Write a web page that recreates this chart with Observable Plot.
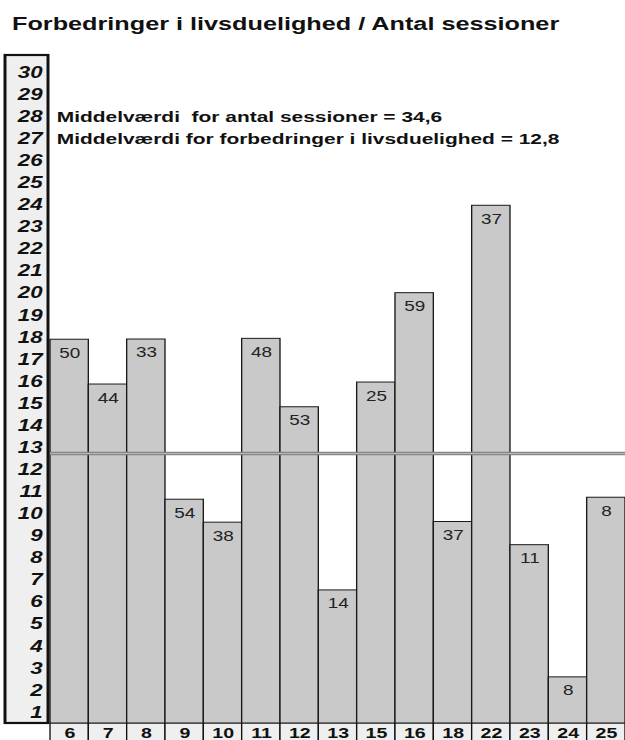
<!DOCTYPE html>
<html><head><meta charset="utf-8">
<script src="https://cdn.jsdelivr.net/npm/d3@7"></script>
<script src="https://cdn.jsdelivr.net/npm/@observablehq/plot@0.6"></script>
<style>
html,body{margin:0;padding:0;background:#fff;overflow:hidden;width:625px;height:740px}
#title{height:40px;position:relative;}
#title span{position:absolute;left:12px;top:15px;font:bold 18.7px "Liberation Sans",Arial,sans-serif;transform:scaleX(1.35);transform-origin:0 0;white-space:nowrap;color:#111;line-height:1}
#chart svg{display:block;transform:scaleX(1.35);transform-origin:0 0;max-width:none}
</style></head><body>
<div id="title"><span>Forbedringer i livsduelighed / Antal sessioner</span></div>
<div id="chart"></div>
<script>
// categories (x axis labels)
const categories = ["6","7","8","9","10","11","12","13","15","16","18","22","23","24","25"];
// bar heights (forbedringer i livsduelighed)
const improvements = [17.39, 15.36, 17.40, 10.14, 9.10, 17.43, 14.33, 6.03, 15.45, 19.50, 9.13, 23.46, 8.08, 2.09, 10.23];
// labels inside bars (antal sessioner)
const sessions = [50, 44, 33, 54, 38, 48, 53, 14, 25, 59, 37, 37, 11, 8, 8];
// y tick labels
const yTicks = d3.range(1, 31);
// mean line position, as drawn in the picture
const meanLine = 12.24;
// annotation texts
const notes = ["Middelværdi\u00a0 for antal sessioner = 34,6", "Middelværdi for forbedringer i livsduelighed = 12,8"];
const noteRows = [28, 27];

const S = 1.35;
const data = categories.map((c, i) => ({cat: c, value: improvements[i], sessions: sessions[i]}));

const plot = Plot.plot({
  width: 625 / S, height: 700,
  marginTop: 15, marginBottom: 17, marginLeft: 50 / S, marginRight: 0,
  style: {background: "transparent", fontFamily: "Liberation Sans, Arial, sans-serif", overflow: "visible"},
  x: {type: "band", domain: categories, padding: 0, round: false, axis: null},
  y: {domain: [0, 30.27], axis: null},
  marks: [
    Plot.barY(categories, {x: d => d, y1: 0, y2: -0.85, fill: "#efefef", stroke: "#111", strokeWidth: 1}),
    Plot.barY(data, {x: "cat", y: "value", fill: "#c9c9c9", stroke: "#1a1a1a", strokeWidth: 1}),
    Plot.ruleY([meanLine], {stroke: "#858585", strokeWidth: 3.5}),
    Plot.ruleY([meanLine], {stroke: "#b8b8b8", strokeWidth: 1}),
    Plot.text(data, {x: "cat", y: "value", text: d => String(d.sessions), dy: 13.5, lineAnchor: "middle", fontSize: 14, fill: "#222"}),
    Plot.text(yTicks, {y: d => d - 0.5, text: d => String(d), frameAnchor: "left", dx: -6, textAnchor: "end", fontSize: 16.5, fontWeight: "bold", fontStyle: "italic", fill: "#111"}),
    Plot.text(notes, {y: (d, i) => noteRows[i] - 0.5, text: d => d, frameAnchor: "left", dx: 4.5, textAnchor: "start", lineAnchor: "middle", fontSize: 15.5, fontWeight: "bold", fill: "#111"}),
    Plot.text(categories, {x: d => d, text: d => d, frameAnchor: "bottom", dy: 9.5, lineAnchor: "middle", fontSize: 14.5, fontWeight: "bold", fill: "#111"})
  ]
});

// y-axis box drawn behind the tick labels, positioned from the y scale
const ys = plot.scale("y");
const yTop = ys.apply(ys.domain[1]);
const yBot = ys.apply(0);
d3.select(plot).insert("rect", ":first-child")
  .attr("x", 5 / S).attr("y", yTop)
  .attr("width", 43 / S).attr("height", yBot - yTop)
  .attr("fill", "#efefef").attr("stroke", "#111").attr("stroke-width", 2.2);

document.getElementById("chart").appendChild(plot);
</script>
</body></html>
